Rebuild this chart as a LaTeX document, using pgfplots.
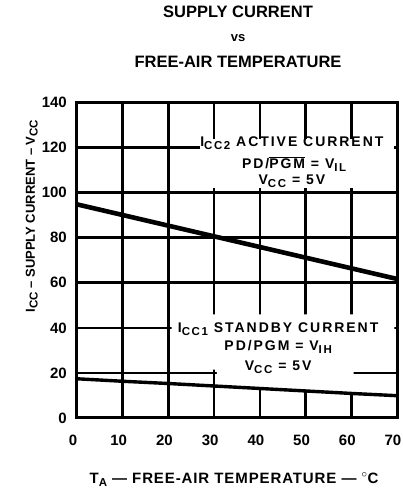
\documentclass[border=0pt]{standalone}
\usepackage{pgfplots}
\pgfplotsset{compat=1.18}
\usepackage{fontspec}
\setmainfont{Liberation Sans}
\newfontfamily\lblfont[UprightFont={* Bold}, LetterSpace=14]{Liberation Sans}
\newfontfamily\tickfont[UprightFont={* Bold}]{Liberation Sans}
\newfontfamily\xlabfont[UprightFont={* Bold}, LetterSpace=6]{Liberation Sans}
\newcommand\sub[1]{\raisebox{-0.4ex}{\fontsize{11.5}{12}\selectfont #1}}
\begin{document}
\begin{tikzpicture}
\path[use as bounding box] (-77pt,-77pt) rectangle (326pt,418pt);
\begin{axis}[
 at={(0pt,0pt)}, anchor=south west, scale only axis,
 width=320pt, height=315.5pt,
 xmin=0, xmax=70, ymin=0, ymax=140,
 xtick={0,10,...,70}, ytick={0,20,...,140},
 grid=major, major grid style={black, line width=2.7pt},
 axis line style={line width=3pt},
 major tick length=0pt,
 tick label style={font=\tickfont\fontsize{15}{15}\selectfont, inner sep=0pt},
 /pgf/number format/assume math mode=true,
 xticklabel shift=17pt, yticklabel shift=10pt,
 xticklabel style={xshift=-4pt, anchor=north},
 clip=false,
]
\fill[white] (axis cs:27,102) rectangle (axis cs:69.4,124);
\fill[white] (axis cs:20.7,46) -- (axis cs:69.4,46) -- (axis cs:69.4,21.5) -- (axis cs:60.5,21.5)
  -- (axis cs:60.5,11) -- (axis cs:30.6,14.2) -- (axis cs:30.6,21.5) -- (axis cs:20.7,21.5) -- cycle;
\addplot[black, line width=4.6pt] coordinates {(0,94.8) (30,80.6) (70,61.7)};
\addplot[black, line width=3.4pt] coordinates {(0,17.4) (10,16.3) (20,15.3) (30,14.2) (40,13.1) (50,12.0) (60,10.9) (70,9.9)};
\begin{scope}[every node/.style={anchor=base, font=\lblfont\fontsize{14}{14}\selectfont, inner sep=0pt}]
\node at (axis cs:47,120.5) {I\sub{CC2} ACTIVE CURRENT};
\node at (axis cs:47.5,110.8) {PD/$\overline{\mbox{PGM}}$ = V\sub{IL}};
\node at (axis cs:47,103.7) {V\sub{CC} = 5V};
\node at (axis cs:44,38) {I\sub{CC1} STANDBY CURRENT};
\node at (axis cs:44,30) {PD/PGM = V\sub{IH}};
\node at (axis cs:44,21.2) {V\sub{CC} = 5V};
\end{scope}
\end{axis}
\begin{scope}[every node/.style={anchor=base, inner sep=0pt}]
\node[font=\bfseries\fontsize{16.5}{17}\selectfont] at (161pt,400pt) {SUPPLY CURRENT};
\node[font=\bfseries\fontsize{13}{13}\selectfont] at (161pt,376pt) {vs};
\node[font=\bfseries\fontsize{16.5}{17}\selectfont] at (161pt,350pt) {FREE-AIR TEMPERATURE};
\node[font=\bfseries\fontsize{13}{13}\selectfont, rotate=90] at (-42pt,202pt) {I\sub{CC} \textendash{} SUPPLY CURRENT \textendash{} V\sub{CC}};
\node[font=\xlabfont\fontsize{15}{15}\selectfont] at (157pt,-65pt) {T\sub{A} \textemdash{} FREE-AIR TEMPERATURE \textemdash{} $^\circ$C};
\end{scope}
\end{tikzpicture}
\end{document}
